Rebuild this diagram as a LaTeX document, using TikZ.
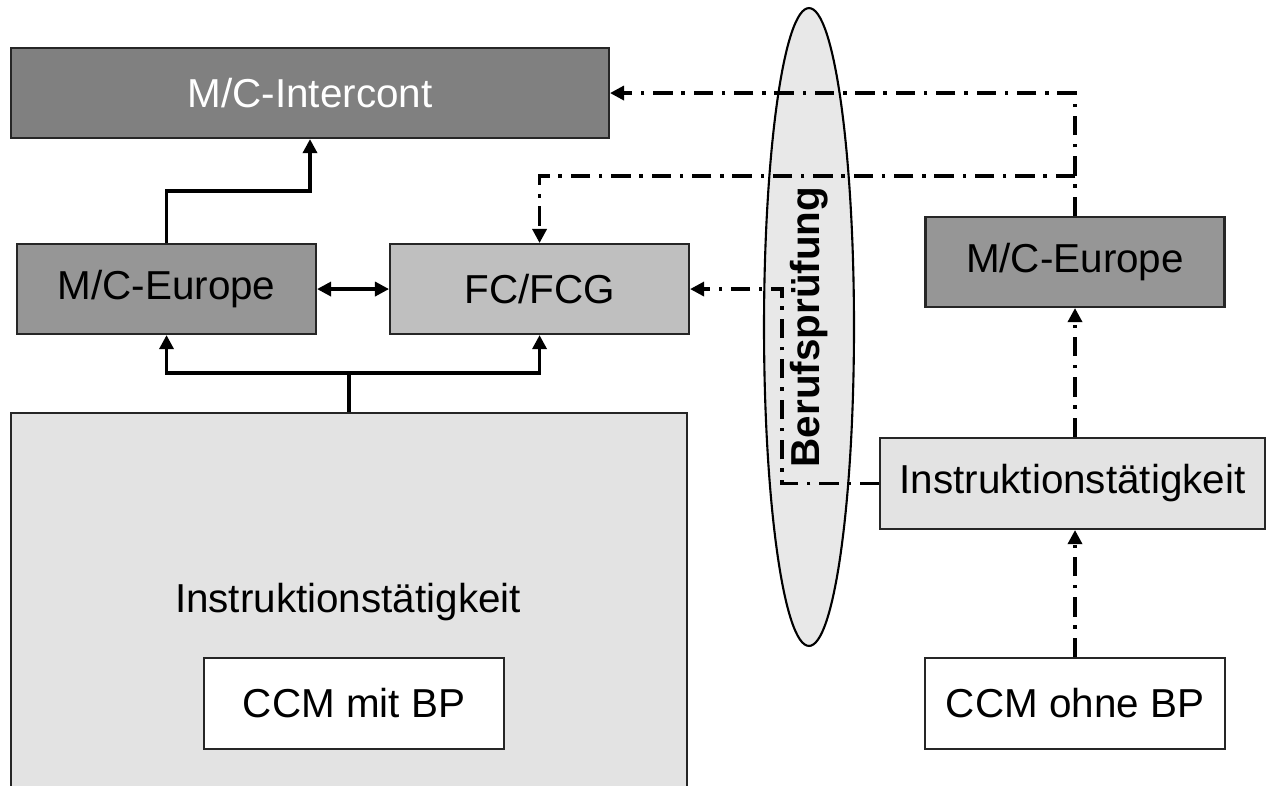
\documentclass[tikz,border=0pt]{standalone}
\usepackage{fontspec}
\setmainfont{Liberation Sans}
\usetikzlibrary{positioning,arrows.meta,shapes.geometric,calc}

\begin{document}
\begin{tikzpicture}[
    x=0.02cm, y=-0.02cm,
    box/.style={draw=black!85,line width=1.2pt,minimum width=5.98cm,minimum height=1.8cm,inner sep=0pt,font=\fontsize{23}{27}\selectfont},
    arr/.style={-{Triangle[length=8pt,width=8pt]},line width=1.9pt},
    arrboth/.style={{Triangle[length=8pt,width=8pt]}-{Triangle[length=8pt,width=8pt]},line width=1.9pt},
    ddarr/.style={arr,dash pattern=on 11pt off 5pt on 2pt off 5pt}
  ]
    \useasboundingbox (0,0) rectangle (1267,785);
    \clip (0,0) rectangle (1267,785);

    % Berufspruefung
    \node[ellipse,draw,line width=1.2pt,fill=black!9,rotate=90,minimum width=12.76cm,minimum height=1.8cm,font=\fontsize{23}{27}\selectfont\bfseries] (bp) at (809,327) {Berufsprüfung};

    % left side
    \node[box,fill=black!50,text=white,minimum width=11.96cm,anchor=north west] (intercont) at (10,47) {M/C-Intercont};
    \node[box,fill=black!41,anchor=north west] (eurL) at (16,243) {M/C-Europe};
    \node[box,fill=black!25,right=1.44cm of eurL] (fc) {FC/FCG};
    \node[box,fill=black!11,minimum width=13.52cm,minimum height=8cm,anchor=north west] (instrL) at (10,412) {};
    \node[font=\fontsize{23}{27}\selectfont] (instrLtxt) at (348,602) {Instruktionstätigkeit};
    \node[box,fill=white,minimum width=6cm,minimum height=1.82cm] (ccmL) at (354,703.5) {CCM mit BP};

    % right side
    \node[box,fill=black!41] (eurR) at (1075,262) {M/C-Europe};
    \node[box,fill=black!11,minimum width=7.7cm,minimum height=1.82cm] (instrR) at (1072.5,483.5) {Instruktionstätigkeit};
    \node[box,fill=white,minimum width=6cm,minimum height=1.82cm] (ccmR) at (1075,703.5) {CCM ohne BP};

    % solid connectors
    \draw[arr] (eurL.north) |- ($(eurL.north)!.5!(intercont.south)$) -| (intercont.south);
    \draw[arrboth] (eurL) -- (fc);
    \draw[line width=1.9pt] (instrL.north) -- ++(0,-39) coordinate (fork);
    \draw[arr] (fork) -| (eurL.south);
    \draw[arr] (fork) -| (fc.south);

    % dash-dotted connectors
    \draw[ddarr] (eurR.north) |- (intercont.east);
    \coordinate (split) at (eurR.north |- 0,176);
    \draw[ddarr] (split) -| (fc.north);
    \draw[ddarr] (instrR.west) -- ++(-97,0) |- (fc.east);
    \draw[ddarr] (instrR.north -| eurR.south) -- (eurR.south);
    \draw[ddarr] (ccmR.north) -- (ccmR.north |- instrR.south);
  \end{tikzpicture}
\end{document}
